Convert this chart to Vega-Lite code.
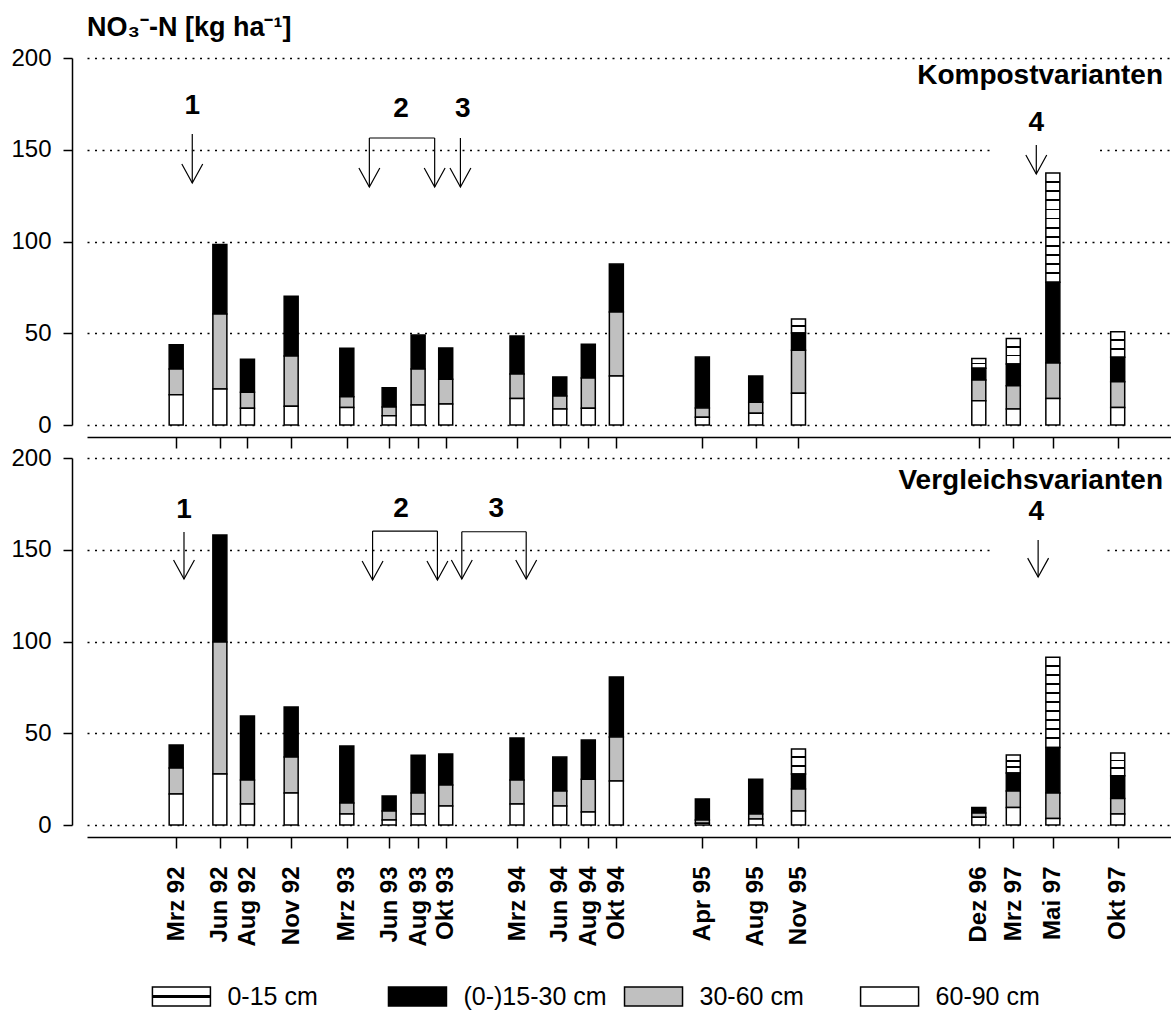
{
  "$schema": "https://vega.github.io/schema/vega-lite/v6.json",
  "padding": {"left": 10, "top": 14, "right": 0, "bottom": 0},
  "bounds": "flush",
  "spacing": 33,
  "resolve": {"scale": {"x": "independent", "y": "independent"}},
  "config": {
    "view": {"stroke": null},
    "font": "Liberation Sans",
    "axis": {"domainColor": "black", "domainWidth": 1.5, "tickColor": "black", "tickWidth": 1.5, "labelColor": "black", "labelFont": "Liberation Sans", "labelFontSize": 24, "titleColor": "black"},
    "axisY": {"gridColor": "black", "gridDash": [2, 5.5], "gridWidth": 1.5, "gridOpacity": 1}
  },
  "datasets": {
    "bars": [
      {"panel": "Kompost", "date": "1992-03-11", "d00_15": 0, "d15_30": 13.3, "d30_60": 14.0, "d60_90": 16.5},
      {"panel": "Kompost", "date": "1992-06-14", "d00_15": 0, "d15_30": 37.8, "d30_60": 40.9, "d60_90": 19.6},
      {"panel": "Kompost", "date": "1992-08-13", "d00_15": 0, "d15_30": 18.0, "d30_60": 8.7, "d60_90": 9.1},
      {"panel": "Kompost", "date": "1992-11-16", "d00_15": 0, "d15_30": 32.5, "d30_60": 27.4, "d60_90": 10.2},
      {"panel": "Kompost", "date": "1993-03-17", "d00_15": 0, "d15_30": 26.4, "d30_60": 5.8, "d60_90": 9.6},
      {"panel": "Kompost", "date": "1993-06-17", "d00_15": 0, "d15_30": 10.5, "d30_60": 4.7, "d60_90": 5.1},
      {"panel": "Kompost", "date": "1993-08-19", "d00_15": 0, "d15_30": 18.5, "d30_60": 19.6, "d60_90": 10.9},
      {"panel": "Kompost", "date": "1993-10-18", "d00_15": 0, "d15_30": 17.0, "d30_60": 13.6, "d60_90": 11.4},
      {"panel": "Kompost", "date": "1994-03-22", "d00_15": 0, "d15_30": 20.7, "d30_60": 13.3, "d60_90": 14.5},
      {"panel": "Kompost", "date": "1994-06-23", "d00_15": 0, "d15_30": 10.4, "d30_60": 7.1, "d60_90": 8.7},
      {"panel": "Kompost", "date": "1994-08-24", "d00_15": 0, "d15_30": 18.4, "d30_60": 16.5, "d60_90": 9.1},
      {"panel": "Kompost", "date": "1994-10-24", "d00_15": 0, "d15_30": 26.1, "d30_60": 34.9, "d60_90": 26.7},
      {"panel": "Kompost", "date": "1995-04-29", "d00_15": 0, "d15_30": 27.7, "d30_60": 5.1, "d60_90": 4.2},
      {"panel": "Kompost", "date": "1995-08-23", "d00_15": 0, "d15_30": 14.3, "d30_60": 6.0, "d60_90": 6.4},
      {"panel": "Kompost", "date": "1995-11-24", "d00_15": 7.5, "d15_30": 9.5, "d30_60": 23.4, "d60_90": 17.3},
      {"panel": "Kompost", "date": "1996-12-20", "d00_15": 5.4, "d15_30": 6.4, "d30_60": 11.3, "d60_90": 13.2},
      {"panel": "Kompost", "date": "1997-03-05", "d00_15": 14.0, "d15_30": 11.8, "d30_60": 12.7, "d60_90": 8.7},
      {"panel": "Kompost", "date": "1997-05-30", "d00_15": 59.5, "d15_30": 44.0, "d30_60": 19.3, "d60_90": 14.5},
      {"panel": "Kompost", "date": "1997-10-18", "d00_15": 13.9, "d15_30": 13.3, "d30_60": 14.0, "d60_90": 9.6},
      {"panel": "Vergleich", "date": "1992-03-11", "d00_15": 0, "d15_30": 12.6, "d30_60": 14.1, "d60_90": 16.9},
      {"panel": "Vergleich", "date": "1992-06-14", "d00_15": 0, "d15_30": 58.3, "d30_60": 71.9, "d60_90": 27.8},
      {"panel": "Vergleich", "date": "1992-08-13", "d00_15": 0, "d15_30": 34.9, "d30_60": 13.1, "d60_90": 11.4},
      {"panel": "Vergleich", "date": "1992-11-16", "d00_15": 0, "d15_30": 27.3, "d30_60": 19.6, "d60_90": 17.4},
      {"panel": "Vergleich", "date": "1993-03-17", "d00_15": 0, "d15_30": 31.0, "d30_60": 6.0, "d60_90": 6.0},
      {"panel": "Vergleich", "date": "1993-06-17", "d00_15": 0, "d15_30": 8.2, "d30_60": 4.9, "d60_90": 2.7},
      {"panel": "Vergleich", "date": "1993-08-19", "d00_15": 0, "d15_30": 20.6, "d30_60": 11.4, "d60_90": 6.0},
      {"panel": "Vergleich", "date": "1993-10-18", "d00_15": 0, "d15_30": 16.9, "d30_60": 11.4, "d60_90": 10.4},
      {"panel": "Vergleich", "date": "1994-03-22", "d00_15": 0, "d15_30": 22.9, "d30_60": 13.1, "d60_90": 11.4},
      {"panel": "Vergleich", "date": "1994-06-23", "d00_15": 0, "d15_30": 18.5, "d30_60": 8.1, "d60_90": 10.4},
      {"panel": "Vergleich", "date": "1994-08-24", "d00_15": 0, "d15_30": 21.3, "d30_60": 17.9, "d60_90": 7.1},
      {"panel": "Vergleich", "date": "1994-10-24", "d00_15": 0, "d15_30": 32.7, "d30_60": 24.0, "d60_90": 24.0},
      {"panel": "Vergleich", "date": "1995-04-29", "d00_15": 0, "d15_30": 11.5, "d30_60": 1.7, "d60_90": 1.0},
      {"panel": "Vergleich", "date": "1995-08-23", "d00_15": 0, "d15_30": 19.0, "d30_60": 2.7, "d60_90": 3.3},
      {"panel": "Vergleich", "date": "1995-11-24", "d00_15": 13.6, "d15_30": 8.2, "d30_60": 12.0, "d60_90": 7.6},
      {"panel": "Vergleich", "date": "1996-12-20", "d00_15": 0, "d15_30": 3.1, "d30_60": 2.3, "d60_90": 4.2},
      {"panel": "Vergleich", "date": "1997-03-05", "d00_15": 9.8, "d15_30": 9.8, "d30_60": 8.9, "d60_90": 9.6},
      {"panel": "Vergleich", "date": "1997-05-30", "d00_15": 49.1, "d15_30": 24.9, "d30_60": 13.8, "d60_90": 3.6},
      {"panel": "Vergleich", "date": "1997-10-18", "d00_15": 12.3, "d15_30": 12.4, "d30_60": 8.5, "d60_90": 6.0}
    ],
    "arrows": [
      {"panel": "Kompost", "date": "1992-04-15", "top": 158.6, "tip": 131.9},
      {"panel": "Kompost", "date": "1993-05-05", "top": 156.4, "tip": 129.7},
      {"panel": "Kompost", "date": "1993-09-24", "top": 156.4, "tip": 129.7},
      {"panel": "Kompost", "date": "1993-11-19", "top": 156.4, "tip": 129.7},
      {"panel": "Kompost", "date": "1997-04-24", "top": 152.6, "tip": 136.8},
      {"panel": "Vergleich", "date": "1992-03-28", "top": 159.7, "tip": 134.1},
      {"panel": "Vergleich", "date": "1993-05-12", "top": 160.2, "tip": 133.5},
      {"panel": "Vergleich", "date": "1993-09-30", "top": 160.2, "tip": 133.5},
      {"panel": "Vergleich", "date": "1993-11-22", "top": 159.8, "tip": 134.1},
      {"panel": "Vergleich", "date": "1994-04-11", "top": 159.8, "tip": 134.1},
      {"panel": "Vergleich", "date": "1997-04-28", "top": 155.3, "tip": 135.1}
    ],
    "brackets": [
      {"panel": "Kompost", "start": "1993-05-05", "end": "1993-09-24", "y": 156.4},
      {"panel": "Vergleich", "start": "1993-05-12", "end": "1993-09-30", "y": 160.2},
      {"panel": "Vergleich", "start": "1993-11-22", "end": "1994-04-11", "y": 159.8}
    ],
    "numbers": [
      {"panel": "Kompost", "date": "1992-04-15", "y": 173.8, "text": "1"},
      {"panel": "Kompost", "date": "1993-07-13", "y": 172.2, "text": "2"},
      {"panel": "Kompost", "date": "1993-11-24", "y": 172.2, "text": "3"},
      {"panel": "Kompost", "date": "1997-04-24", "y": 164.6, "text": "4"},
      {"panel": "Vergleich", "date": "1992-03-28", "y": 171.7, "text": "1"},
      {"panel": "Vergleich", "date": "1993-07-13", "y": 172.2, "text": "2"},
      {"panel": "Vergleich", "date": "1994-02-05", "y": 172.2, "text": "3"},
      {"panel": "Vergleich", "date": "1997-04-24", "y": 170.6, "text": "4"}
    ],
    "gaps": [
      {"panel": "Kompost", "start": "1997-01-19", "end": "1997-09-02"},
      {"panel": "Vergleich", "start": "1997-01-19", "end": "1997-09-20"}
    ],
    "names": [
      {"panel": "Kompost", "y": 190.0, "text": "Kompostvarianten"},
      {"panel": "Vergleich", "y": 187.3, "text": "Vergleichsvarianten"}
    ],
    "legend": [
      {"label": "0-15 cm"},
      {"label": "(0-)15-30 cm"},
      {"label": "30-60 cm"},
      {"label": "60-90 cm"}
    ]
  },
  "vconcat": [
    {
      "width": 1084,
      "height": 367,
      "title": {"text": "NO₃⁻-N [kg ha⁻¹]", "anchor": "start", "frame": "group", "fontSize": 27, "fontWeight": "bold", "font": "Liberation Sans", "color": "black", "offset": 4},
      "layer": [
        {
          "data": {"name": "gaps"},
          "transform": [{"filter": "datum.panel === 'Kompost'"}],
          "mark": {"type": "rect", "fill": "white", "stroke": null},
          "encoding": {
            "x": {"field": "start", "type": "temporal",
              "scale": {"type": "utc", "domain": [{"year": 1991, "month": 9, "date": 10, "utc": true}, {"year": 1998, "month": 1, "date": 31, "utc": true}]},
              "axis": {"offset": 12, "tickSize": 11, "labels": false, "grid": false, "title": null,
                "values": [{"year": 1992, "month": 3, "date": 11, "utc": true}, {"year": 1992, "month": 6, "date": 14, "utc": true}, {"year": 1992, "month": 8, "date": 13, "utc": true}, {"year": 1992, "month": 11, "date": 16, "utc": true}, {"year": 1993, "month": 3, "date": 17, "utc": true}, {"year": 1993, "month": 6, "date": 17, "utc": true}, {"year": 1993, "month": 8, "date": 19, "utc": true}, {"year": 1993, "month": 10, "date": 18, "utc": true}, {"year": 1994, "month": 3, "date": 22, "utc": true}, {"year": 1994, "month": 6, "date": 23, "utc": true}, {"year": 1994, "month": 8, "date": 24, "utc": true}, {"year": 1994, "month": 10, "date": 24, "utc": true}, {"year": 1995, "month": 4, "date": 29, "utc": true}, {"year": 1995, "month": 8, "date": 23, "utc": true}, {"year": 1995, "month": 11, "date": 24, "utc": true}, {"year": 1996, "month": 12, "date": 20, "utc": true}, {"year": 1997, "month": 3, "date": 5, "utc": true}, {"year": 1997, "month": 5, "date": 30, "utc": true}, {"year": 1997, "month": 10, "date": 18, "utc": true}]}},
            "x2": {"field": "end"},
            "y": {"datum": 147.5, "type": "quantitative",
              "scale": {"domain": [0, 200], "nice": false},
              "axis": {"values": [0, 50, 100, 150, 200], "offset": 15, "tickSize": 9, "labelPadding": 12, "grid": true, "title": null}},
            "y2": {"datum": 152.5}
          }
        },
        {
          "mark": {"type": "rule", "color": "black", "strokeWidth": 1.5},
          "encoding": {"x": {"datum": {"year": 1991, "month": 9, "date": 10, "utc": true}, "type": "temporal"}}
        },
        {
          "mark": {"type": "rule", "color": "black", "strokeWidth": 1.5},
          "encoding": {"y": {"datum": 0, "type": "quantitative"}}
        },
        {
          "data": {"name": "bars"},
          "transform": [
            {"filter": "datum.panel === 'Kompost'"},
            {"fold": ["d00_15", "d15_30", "d30_60", "d60_90"], "as": ["depth", "value"]},
            {"filter": "datum.value > 0"}
          ],
          "mark": {"type": "bar", "size": 14, "stroke": "black", "strokeWidth": 1.5},
          "encoding": {
            "x": {"field": "date", "type": "temporal"},
            "y": {"field": "value", "type": "quantitative", "stack": "zero"},
            "order": {"field": "depth", "sort": "descending"},
            "fill": {"field": "depth", "type": "nominal", "legend": null,
              "scale": {"domain": ["d00_15", "d15_30", "d30_60", "d60_90"], "range": ["white", "black", "#c0c0c0", "white"]},
              "condition": [
                {"test": "datum.depth === 'd00_15' && datum.value >= 55", "value": {"gradient": "linear", "x1": 0, "y1": 0, "x2": 0, "y2": 1, "stops": [
                  {"offset": 0, "color": "white"},
                  {"offset": 0.0748, "color": "white"}, {"offset": 0.0748, "color": "black"}, {"offset": 0.0918, "color": "black"}, {"offset": 0.0918, "color": "white"},
                  {"offset": 0.1582, "color": "white"}, {"offset": 0.1582, "color": "black"}, {"offset": 0.1752, "color": "black"}, {"offset": 0.1752, "color": "white"},
                  {"offset": 0.2415, "color": "white"}, {"offset": 0.2415, "color": "black"}, {"offset": 0.2585, "color": "black"}, {"offset": 0.2585, "color": "white"},
                  {"offset": 0.3248, "color": "white"}, {"offset": 0.3248, "color": "black"}, {"offset": 0.3418, "color": "black"}, {"offset": 0.3418, "color": "white"},
                  {"offset": 0.4082, "color": "white"}, {"offset": 0.4082, "color": "black"}, {"offset": 0.4252, "color": "black"}, {"offset": 0.4252, "color": "white"},
                  {"offset": 0.4915, "color": "white"}, {"offset": 0.4915, "color": "black"}, {"offset": 0.5085, "color": "black"}, {"offset": 0.5085, "color": "white"},
                  {"offset": 0.5748, "color": "white"}, {"offset": 0.5748, "color": "black"}, {"offset": 0.5918, "color": "black"}, {"offset": 0.5918, "color": "white"},
                  {"offset": 0.6582, "color": "white"}, {"offset": 0.6582, "color": "black"}, {"offset": 0.6752, "color": "black"}, {"offset": 0.6752, "color": "white"},
                  {"offset": 0.7415, "color": "white"}, {"offset": 0.7415, "color": "black"}, {"offset": 0.7585, "color": "black"}, {"offset": 0.7585, "color": "white"},
                  {"offset": 0.8248, "color": "white"}, {"offset": 0.8248, "color": "black"}, {"offset": 0.8418, "color": "black"}, {"offset": 0.8418, "color": "white"},
                  {"offset": 0.9082, "color": "white"}, {"offset": 0.9082, "color": "black"}, {"offset": 0.9252, "color": "black"}, {"offset": 0.9252, "color": "white"},
                  {"offset": 1, "color": "white"}]}},
                {"test": "datum.depth === 'd00_15' && datum.value >= 30", "value": {"gradient": "linear", "x1": 0, "y1": 0, "x2": 0, "y2": 1, "stops": [
                  {"offset": 0, "color": "white"},
                  {"offset": 0.09, "color": "white"}, {"offset": 0.09, "color": "black"}, {"offset": 0.11, "color": "black"}, {"offset": 0.11, "color": "white"},
                  {"offset": 0.19, "color": "white"}, {"offset": 0.19, "color": "black"}, {"offset": 0.21, "color": "black"}, {"offset": 0.21, "color": "white"},
                  {"offset": 0.29, "color": "white"}, {"offset": 0.29, "color": "black"}, {"offset": 0.31, "color": "black"}, {"offset": 0.31, "color": "white"},
                  {"offset": 0.39, "color": "white"}, {"offset": 0.39, "color": "black"}, {"offset": 0.41, "color": "black"}, {"offset": 0.41, "color": "white"},
                  {"offset": 0.49, "color": "white"}, {"offset": 0.49, "color": "black"}, {"offset": 0.51, "color": "black"}, {"offset": 0.51, "color": "white"},
                  {"offset": 0.59, "color": "white"}, {"offset": 0.59, "color": "black"}, {"offset": 0.61, "color": "black"}, {"offset": 0.61, "color": "white"},
                  {"offset": 0.69, "color": "white"}, {"offset": 0.69, "color": "black"}, {"offset": 0.71, "color": "black"}, {"offset": 0.71, "color": "white"},
                  {"offset": 0.79, "color": "white"}, {"offset": 0.79, "color": "black"}, {"offset": 0.81, "color": "black"}, {"offset": 0.81, "color": "white"},
                  {"offset": 0.89, "color": "white"}, {"offset": 0.89, "color": "black"}, {"offset": 0.91, "color": "black"}, {"offset": 0.91, "color": "white"},
                  {"offset": 1, "color": "white"}]}},
                {"test": "datum.depth === 'd00_15' && datum.value >= 8", "value": {"gradient": "linear", "x1": 0, "y1": 0, "x2": 0, "y2": 1, "stops": [
                  {"offset": 0, "color": "white"},
                  {"offset": 0.298, "color": "white"}, {"offset": 0.298, "color": "black"}, {"offset": 0.368, "color": "black"}, {"offset": 0.368, "color": "white"},
                  {"offset": 0.632, "color": "white"}, {"offset": 0.632, "color": "black"}, {"offset": 0.702, "color": "black"}, {"offset": 0.702, "color": "white"},
                  {"offset": 1, "color": "white"}]}},
                {"test": "datum.depth === 'd00_15'", "value": {"gradient": "linear", "x1": 0, "y1": 0, "x2": 0, "y2": 1, "stops": [
                  {"offset": 0, "color": "white"},
                  {"offset": 0.44, "color": "white"}, {"offset": 0.44, "color": "black"}, {"offset": 0.56, "color": "black"}, {"offset": 0.56, "color": "white"},
                  {"offset": 1, "color": "white"}]}}
              ]
            }
          }
        },
        {
          "data": {"name": "brackets"},
          "transform": [{"filter": "datum.panel === 'Kompost'"}],
          "mark": {"type": "rule", "color": "black", "strokeWidth": 1.2},
          "encoding": {
            "x": {"field": "start", "type": "temporal"},
            "x2": {"field": "end"},
            "y": {"field": "y", "type": "quantitative"}
          }
        },
        {
          "data": {"name": "arrows"},
          "transform": [{"filter": "datum.panel === 'Kompost'"}],
          "mark": {"type": "rule", "color": "black", "strokeWidth": 1.2},
          "encoding": {
            "x": {"field": "date", "type": "temporal"},
            "y": {"field": "top", "type": "quantitative"},
            "y2": {"field": "tip"}
          }
        },
        {
          "data": {"name": "arrows"},
          "transform": [{"filter": "datum.panel === 'Kompost'"}],
          "mark": {"type": "point", "shape": "M-0.55,-1L0,0L0.55,-1", "size": 1444, "filled": false, "stroke": "black", "strokeWidth": 1.2, "opacity": 1},
          "encoding": {
            "x": {"field": "date", "type": "temporal"},
            "y": {"field": "tip", "type": "quantitative"}
          }
        },
        {
          "data": {"name": "numbers"},
          "transform": [{"filter": "datum.panel === 'Kompost'"}],
          "mark": {"type": "text", "fontSize": 28, "fontWeight": "bold", "font": "Liberation Sans", "color": "black", "baseline": "middle", "align": "center"},
          "encoding": {
            "x": {"field": "date", "type": "temporal"},
            "y": {"field": "y", "type": "quantitative"},
            "text": {"field": "text"}
          }
        },
        {
          "data": {"name": "names"},
          "transform": [{"filter": "datum.panel === 'Kompost'"}],
          "mark": {"type": "text", "fontSize": 28, "fontWeight": "bold", "font": "Liberation Sans", "color": "black", "baseline": "middle", "align": "right", "dx": -3},
          "encoding": {
            "x": {"datum": {"year": 1998, "month": 1, "date": 31, "utc": true}, "type": "temporal"},
            "y": {"field": "y", "type": "quantitative"},
            "text": {"field": "text"}
          }
        }
      ]
    },
    {
      "width": 1084,
      "height": 367,
      "layer": [
        {
          "data": {"name": "gaps"},
          "transform": [{"filter": "datum.panel === 'Vergleich'"}],
          "mark": {"type": "rect", "fill": "white", "stroke": null},
          "encoding": {
            "x": {"field": "start", "type": "temporal",
              "scale": {"type": "utc", "domain": [{"year": 1991, "month": 9, "date": 10, "utc": true}, {"year": 1998, "month": 1, "date": 31, "utc": true}]},
              "axis": {"offset": 12, "tickSize": 11, "grid": false, "title": null, "labelAngle": 270, "labelFontWeight": "bold", "labelFontSize": 24, "labelPadding": 18, "labelOverlap": false, "labelFlush": false, "labelBound": false,
                "labelExpr": "['Jan','Feb','Mrz','Apr','Mai','Jun','Jul','Aug','Sep','Okt','Nov','Dez'][utcmonth(datum.value)] + ' ' + utcFormat(datum.value, '%y')",
                "values": [{"year": 1992, "month": 3, "date": 11, "utc": true}, {"year": 1992, "month": 6, "date": 14, "utc": true}, {"year": 1992, "month": 8, "date": 13, "utc": true}, {"year": 1992, "month": 11, "date": 16, "utc": true}, {"year": 1993, "month": 3, "date": 17, "utc": true}, {"year": 1993, "month": 6, "date": 17, "utc": true}, {"year": 1993, "month": 8, "date": 19, "utc": true}, {"year": 1993, "month": 10, "date": 18, "utc": true}, {"year": 1994, "month": 3, "date": 22, "utc": true}, {"year": 1994, "month": 6, "date": 23, "utc": true}, {"year": 1994, "month": 8, "date": 24, "utc": true}, {"year": 1994, "month": 10, "date": 24, "utc": true}, {"year": 1995, "month": 4, "date": 29, "utc": true}, {"year": 1995, "month": 8, "date": 23, "utc": true}, {"year": 1995, "month": 11, "date": 24, "utc": true}, {"year": 1996, "month": 12, "date": 20, "utc": true}, {"year": 1997, "month": 3, "date": 5, "utc": true}, {"year": 1997, "month": 5, "date": 30, "utc": true}, {"year": 1997, "month": 10, "date": 18, "utc": true}]}},
            "x2": {"field": "end"},
            "y": {"datum": 147.5, "type": "quantitative",
              "scale": {"domain": [0, 200], "nice": false},
              "axis": {"values": [0, 50, 100, 150, 200], "offset": 15, "tickSize": 9, "labelPadding": 12, "grid": true, "title": null}},
            "y2": {"datum": 152.5}
          }
        },
        {
          "mark": {"type": "rule", "color": "black", "strokeWidth": 1.5},
          "encoding": {"x": {"datum": {"year": 1991, "month": 9, "date": 10, "utc": true}, "type": "temporal"}}
        },
        {
          "mark": {"type": "rule", "color": "black", "strokeWidth": 1.5},
          "encoding": {"y": {"datum": 0, "type": "quantitative"}}
        },
        {
          "data": {"name": "bars"},
          "transform": [
            {"filter": "datum.panel === 'Vergleich'"},
            {"fold": ["d00_15", "d15_30", "d30_60", "d60_90"], "as": ["depth", "value"]},
            {"filter": "datum.value > 0"}
          ],
          "mark": {"type": "bar", "size": 14, "stroke": "black", "strokeWidth": 1.5},
          "encoding": {
            "x": {"field": "date", "type": "temporal"},
            "y": {"field": "value", "type": "quantitative", "stack": "zero"},
            "order": {"field": "depth", "sort": "descending"},
            "fill": {"field": "depth", "type": "nominal", "legend": null,
              "scale": {"domain": ["d00_15", "d15_30", "d30_60", "d60_90"], "range": ["white", "black", "#c0c0c0", "white"]},
              "condition": [
                {"test": "datum.depth === 'd00_15' && datum.value >= 55", "value": {"gradient": "linear", "x1": 0, "y1": 0, "x2": 0, "y2": 1, "stops": [
                  {"offset": 0, "color": "white"},
                  {"offset": 0.0748, "color": "white"}, {"offset": 0.0748, "color": "black"}, {"offset": 0.0918, "color": "black"}, {"offset": 0.0918, "color": "white"},
                  {"offset": 0.1582, "color": "white"}, {"offset": 0.1582, "color": "black"}, {"offset": 0.1752, "color": "black"}, {"offset": 0.1752, "color": "white"},
                  {"offset": 0.2415, "color": "white"}, {"offset": 0.2415, "color": "black"}, {"offset": 0.2585, "color": "black"}, {"offset": 0.2585, "color": "white"},
                  {"offset": 0.3248, "color": "white"}, {"offset": 0.3248, "color": "black"}, {"offset": 0.3418, "color": "black"}, {"offset": 0.3418, "color": "white"},
                  {"offset": 0.4082, "color": "white"}, {"offset": 0.4082, "color": "black"}, {"offset": 0.4252, "color": "black"}, {"offset": 0.4252, "color": "white"},
                  {"offset": 0.4915, "color": "white"}, {"offset": 0.4915, "color": "black"}, {"offset": 0.5085, "color": "black"}, {"offset": 0.5085, "color": "white"},
                  {"offset": 0.5748, "color": "white"}, {"offset": 0.5748, "color": "black"}, {"offset": 0.5918, "color": "black"}, {"offset": 0.5918, "color": "white"},
                  {"offset": 0.6582, "color": "white"}, {"offset": 0.6582, "color": "black"}, {"offset": 0.6752, "color": "black"}, {"offset": 0.6752, "color": "white"},
                  {"offset": 0.7415, "color": "white"}, {"offset": 0.7415, "color": "black"}, {"offset": 0.7585, "color": "black"}, {"offset": 0.7585, "color": "white"},
                  {"offset": 0.8248, "color": "white"}, {"offset": 0.8248, "color": "black"}, {"offset": 0.8418, "color": "black"}, {"offset": 0.8418, "color": "white"},
                  {"offset": 0.9082, "color": "white"}, {"offset": 0.9082, "color": "black"}, {"offset": 0.9252, "color": "black"}, {"offset": 0.9252, "color": "white"},
                  {"offset": 1, "color": "white"}]}},
                {"test": "datum.depth === 'd00_15' && datum.value >= 30", "value": {"gradient": "linear", "x1": 0, "y1": 0, "x2": 0, "y2": 1, "stops": [
                  {"offset": 0, "color": "white"},
                  {"offset": 0.09, "color": "white"}, {"offset": 0.09, "color": "black"}, {"offset": 0.11, "color": "black"}, {"offset": 0.11, "color": "white"},
                  {"offset": 0.19, "color": "white"}, {"offset": 0.19, "color": "black"}, {"offset": 0.21, "color": "black"}, {"offset": 0.21, "color": "white"},
                  {"offset": 0.29, "color": "white"}, {"offset": 0.29, "color": "black"}, {"offset": 0.31, "color": "black"}, {"offset": 0.31, "color": "white"},
                  {"offset": 0.39, "color": "white"}, {"offset": 0.39, "color": "black"}, {"offset": 0.41, "color": "black"}, {"offset": 0.41, "color": "white"},
                  {"offset": 0.49, "color": "white"}, {"offset": 0.49, "color": "black"}, {"offset": 0.51, "color": "black"}, {"offset": 0.51, "color": "white"},
                  {"offset": 0.59, "color": "white"}, {"offset": 0.59, "color": "black"}, {"offset": 0.61, "color": "black"}, {"offset": 0.61, "color": "white"},
                  {"offset": 0.69, "color": "white"}, {"offset": 0.69, "color": "black"}, {"offset": 0.71, "color": "black"}, {"offset": 0.71, "color": "white"},
                  {"offset": 0.79, "color": "white"}, {"offset": 0.79, "color": "black"}, {"offset": 0.81, "color": "black"}, {"offset": 0.81, "color": "white"},
                  {"offset": 0.89, "color": "white"}, {"offset": 0.89, "color": "black"}, {"offset": 0.91, "color": "black"}, {"offset": 0.91, "color": "white"},
                  {"offset": 1, "color": "white"}]}},
                {"test": "datum.depth === 'd00_15' && datum.value >= 8", "value": {"gradient": "linear", "x1": 0, "y1": 0, "x2": 0, "y2": 1, "stops": [
                  {"offset": 0, "color": "white"},
                  {"offset": 0.298, "color": "white"}, {"offset": 0.298, "color": "black"}, {"offset": 0.368, "color": "black"}, {"offset": 0.368, "color": "white"},
                  {"offset": 0.632, "color": "white"}, {"offset": 0.632, "color": "black"}, {"offset": 0.702, "color": "black"}, {"offset": 0.702, "color": "white"},
                  {"offset": 1, "color": "white"}]}},
                {"test": "datum.depth === 'd00_15'", "value": {"gradient": "linear", "x1": 0, "y1": 0, "x2": 0, "y2": 1, "stops": [
                  {"offset": 0, "color": "white"},
                  {"offset": 0.44, "color": "white"}, {"offset": 0.44, "color": "black"}, {"offset": 0.56, "color": "black"}, {"offset": 0.56, "color": "white"},
                  {"offset": 1, "color": "white"}]}}
              ]
            }
          }
        },
        {
          "data": {"name": "brackets"},
          "transform": [{"filter": "datum.panel === 'Vergleich'"}],
          "mark": {"type": "rule", "color": "black", "strokeWidth": 1.2},
          "encoding": {
            "x": {"field": "start", "type": "temporal"},
            "x2": {"field": "end"},
            "y": {"field": "y", "type": "quantitative"}
          }
        },
        {
          "data": {"name": "arrows"},
          "transform": [{"filter": "datum.panel === 'Vergleich'"}],
          "mark": {"type": "rule", "color": "black", "strokeWidth": 1.2},
          "encoding": {
            "x": {"field": "date", "type": "temporal"},
            "y": {"field": "top", "type": "quantitative"},
            "y2": {"field": "tip"}
          }
        },
        {
          "data": {"name": "arrows"},
          "transform": [{"filter": "datum.panel === 'Vergleich'"}],
          "mark": {"type": "point", "shape": "M-0.55,-1L0,0L0.55,-1", "size": 1444, "filled": false, "stroke": "black", "strokeWidth": 1.2, "opacity": 1},
          "encoding": {
            "x": {"field": "date", "type": "temporal"},
            "y": {"field": "tip", "type": "quantitative"}
          }
        },
        {
          "data": {"name": "numbers"},
          "transform": [{"filter": "datum.panel === 'Vergleich'"}],
          "mark": {"type": "text", "fontSize": 28, "fontWeight": "bold", "font": "Liberation Sans", "color": "black", "baseline": "middle", "align": "center"},
          "encoding": {
            "x": {"field": "date", "type": "temporal"},
            "y": {"field": "y", "type": "quantitative"},
            "text": {"field": "text"}
          }
        },
        {
          "data": {"name": "names"},
          "transform": [{"filter": "datum.panel === 'Vergleich'"}],
          "mark": {"type": "text", "fontSize": 28, "fontWeight": "bold", "font": "Liberation Sans", "color": "black", "baseline": "middle", "align": "right", "dx": -3},
          "encoding": {
            "x": {"datum": {"year": 1998, "month": 1, "date": 31, "utc": true}, "type": "temporal"},
            "y": {"field": "y", "type": "quantitative"},
            "text": {"field": "text"}
          }
        }
      ]
    },
    {
      "width": 897,
      "height": 148,
      "data": {"name": "legend"},
      "layer": [
        {
          "mark": {"type": "bar", "size": 58, "stroke": "black", "strokeWidth": 1.5},
          "encoding": {
            "x": {"field": "label", "type": "nominal", "axis": null,
              "scale": {"type": "band", "domain": ["0-15 cm", "(0-)15-30 cm", "30-60 cm", "60-90 cm"], "paddingInner": 0.2, "paddingOuter": 0}},
            "y": {"datum": 0, "type": "quantitative", "axis": null, "scale": {"domain": [0, 7.79], "nice": false}},
            "y2": {"datum": 1},
            "fill": {"field": "label", "type": "nominal", "legend": null,
              "scale": {"domain": ["0-15 cm", "(0-)15-30 cm", "30-60 cm", "60-90 cm"], "range": ["white", "black", "#c0c0c0", "white"]},
              "condition": {"test": "datum.label === '0-15 cm'", "value": {"gradient": "linear", "x1": 0, "y1": 0, "x2": 0, "y2": 1, "stops": [
                {"offset": 0, "color": "white"},
                {"offset": 0.44, "color": "white"}, {"offset": 0.44, "color": "black"}, {"offset": 0.56, "color": "black"}, {"offset": 0.56, "color": "white"},
                {"offset": 1, "color": "white"}]}}
            }
          }
        },
        {
          "mark": {"type": "text", "align": "left", "dx": 46, "fontSize": 25, "font": "Liberation Sans", "color": "black", "baseline": "middle"},
          "encoding": {
            "x": {"field": "label", "type": "nominal"},
            "y": {"datum": 0.5, "type": "quantitative"},
            "text": {"field": "label"}
          }
        }
      ]
    }
  ]
}
